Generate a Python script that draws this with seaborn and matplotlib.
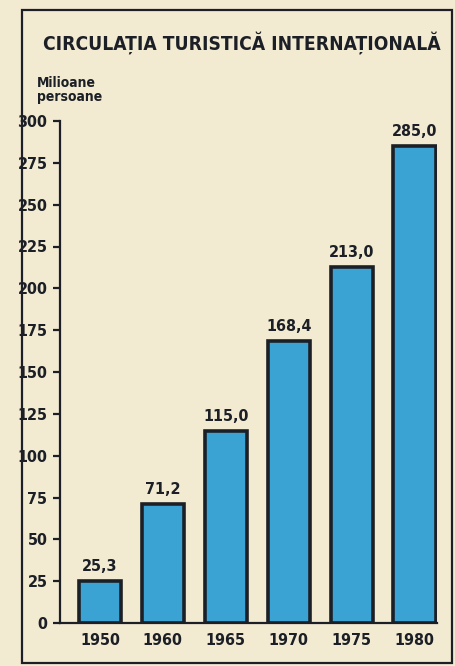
import pandas as pd
import seaborn as sns
import matplotlib.pyplot as plt
from matplotlib.patches import Rectangle

# Date: circulatia turistica internationala (milioane persoane)
ani = ['1950', '1960', '1965', '1970', '1975', '1980']
valori = [25.3, 71.2, 115.0, 168.4, 213.0, 285.0]
yticks = [0, 25, 50, 75, 100, 125, 150, 175, 200, 225, 250, 275, 300]

df = pd.DataFrame({'an': ani, 'val': valori})

fundal = '#f3ead2'
albastru = '#3ba3d3'
inchis = '#1c2026'

sns.set_style('white')
plt.rcParams['font.family'] = ['DejaVu Sans']
plt.rcParams['font.stretch'] = 'condensed'
plt.rcParams['font.weight'] = 'bold'

fig = plt.figure(figsize=(4.55, 6.66), dpi=100, facecolor=fundal)
ax = fig.add_axes([60 / 455, 43 / 666, 377 / 455, 502 / 666])
ax.set_facecolor(fundal)

sns.barplot(data=df, x='an', y='val', color=albastru, edgecolor=inchis,
            linewidth=2.6, width=0.67, saturation=1, ax=ax)

# etichete cu virgula zecimala
etichete = [f'{v:.1f}'.replace('.', ',') for v in valori]
ax.bar_label(ax.containers[0], labels=etichete, padding=5,
             fontsize=11.5, fontweight='bold', color=inchis)

ax.set_ylim(0, 300)
ax.set_xlim(-0.636, 5.358)
ax.set_yticks(yticks)
ax.set_yticklabels([str(t) for t in yticks], fontsize=11.5, fontweight='bold', color=inchis)
ax.set_xticklabels(ani, fontsize=11.5, fontweight='bold', color=inchis)
ax.tick_params(axis='y', direction='out', length=5, width=1.6, color=inchis, pad=4, left=True)
ax.tick_params(axis='x', length=0, pad=7)
ax.set_xlabel('')
ax.set_ylabel('')

for s in ['top', 'right']:
    ax.spines[s].set_visible(False)
for s in ['left', 'bottom']:
    ax.spines[s].set_color(inchis)
    ax.spines[s].set_linewidth(1.6)

# chenarul exterior
fig.add_artist(Rectangle((22 / 455, 3 / 666), 430 / 455, 653 / 666,
                         transform=fig.transFigure, fill=False,
                         edgecolor=inchis, linewidth=1.6))

fig.text(242 / 455, 1 - 43 / 666, 'CIRCULAȚIA TURISTICĂ INTERNAȚIONALĂ',
         ha='center', va='center', fontsize=13.8, fontweight='bold', color=inchis)
fig.text(37 / 455, 1 - 90 / 666, 'Milioane\npersoane', ha='left', va='center',
         fontsize=10, fontweight='bold', color=inchis, linespacing=0.95)

fig.savefig('out.png', dpi=100, facecolor=fundal)
